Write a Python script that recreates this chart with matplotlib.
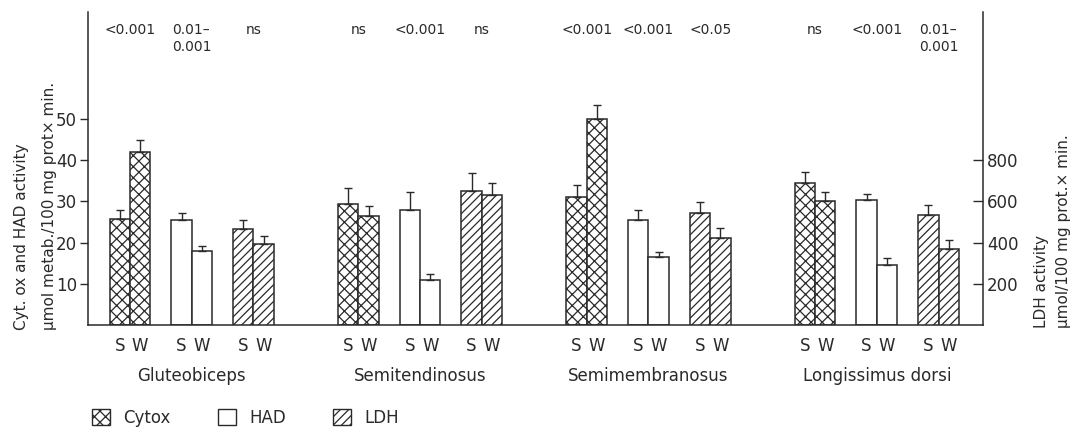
import numpy as np
import matplotlib
matplotlib.use("Agg")
import matplotlib.pyplot as plt
from matplotlib.patches import Patch
from matplotlib.transforms import blended_transform_factory

plt.rcParams['font.family'] = ['DejaVu Sans']
plt.rcParams['hatch.linewidth'] = 0.9
plt.rcParams['hatch.color'] = '#222222'
ink = '#2a2a2a'

# data
muscles = ["Gluteobiceps", "Semitendinosus", "Semimembranosus", "Longissimus dorsi"]
enzymes = ["Cytox", "HAD", "LDH"]
# Cytox and HAD on left scale, LDH on right scale; S and W per muscle
cytox_S = [25.8, 29.5, 31.2, 34.4]
cytox_W = [42.0, 26.4, 50.1, 30.0]
cytox_S_err = [2.2, 3.7, 2.7, 2.7]
cytox_W_err = [3.0, 2.6, 3.4, 2.4]
had_S = [25.6, 27.9, 25.4, 30.3]
had_W = [18.0, 10.9, 16.5, 14.5]
had_S_err = [1.7, 4.3, 2.6, 1.5]
had_W_err = [1.3, 1.4, 1.2, 1.7]
ldh_S = [464, 650, 542, 532]
ldh_W = [392, 630, 422, 368]
ldh_S_err = [48, 90, 54, 50]
ldh_W_err = [38, 58, 48, 44]
p_values = [["<0.001", "0.01\u2013\n0.001", "ns"],
            ["ns", "<0.001", "ns"],
            ["<0.001", "<0.001", "<0.05"],
            ["ns", "<0.001", "0.01\u2013\n0.001"]]

fig = plt.figure(figsize=(10.81, 4.37), dpi=100)
ax = fig.add_axes([0.0814, 0.2563, 0.8279, 0.7162])
ax2 = ax.twinx()
ax2.set_position(ax.get_position())

gap = 3.7
width = 0.33
centers = np.array([[m * gap + k for k in range(3)] for m in range(len(muscles))])

styles = {"Cytox": dict(facecolor='white', hatch='xxx'),
          "HAD": dict(facecolor='white', hatch=None),
          "LDH": dict(facecolor='white', hatch='////')}
ekw = dict(ecolor=ink, elinewidth=1.0, capsize=3, capthick=1.0)

series = [("Cytox", ax, cytox_S, cytox_W, cytox_S_err, cytox_W_err),
          ("HAD", ax, had_S, had_W, had_S_err, had_W_err),
          ("LDH", ax2, ldh_S, ldh_W, ldh_S_err, ldh_W_err)]
for k, (name, a, s, w, se, we) in enumerate(series):
    xs = centers[:, k]
    a.bar(xs - width / 2, s, width, yerr=[np.zeros(len(s)), se], edgecolor=ink,
          linewidth=1.1, error_kw=ekw, **styles[name])
    a.bar(xs + width / 2, w, width, yerr=[np.zeros(len(w)), we], edgecolor=ink,
          linewidth=1.1, error_kw=ekw, **styles[name])

ax.set_xlim(-0.68, 13.82)
ax.set_ylim(0, 76)
ax2.set_ylim(0, 76 * 20)

for a in (ax, ax2):
    a.spines['top'].set_visible(False)
    for sp in a.spines.values():
        sp.set_color(ink)
        sp.set_linewidth(1.1)
ax.spines['right'].set_visible(False)
ax2.spines['left'].set_visible(False)
ax2.spines['bottom'].set_visible(False)

ax.set_yticks([10, 20, 30, 40, 50])
ax.tick_params(axis='y', direction='out', length=6, width=1, color=ink,
               labelsize=12, labelcolor=ink, pad=2)
ax2.set_yticks([200, 400, 600, 800])
ax2.tick_params(axis='y', direction='in', length=7, width=1, color=ink,
                labelsize=12, labelcolor=ink, pad=3)

xt = np.concatenate([centers.ravel() - width / 2, centers.ravel() + width / 2])
ax.set_xticks(xt)
ax.set_xticklabels(["S"] * centers.size + ["W"] * centers.size)
ax.tick_params(axis='x', length=0, labelsize=12, labelcolor=ink, pad=9)

trans = blended_transform_factory(ax.transData, ax.transAxes)
for m, name in enumerate(muscles):
    ax.text(centers[m, 1], -0.163, name, transform=trans, ha='center',
            va='center', fontsize=12, color=ink)
    for k in range(3):
        ax.text(centers[m, k], 73.4, p_values[m][k], ha='center', va='top',
                fontsize=10, color=ink, linespacing=1.3, multialignment='left')

fig.text(0.0195, 0.245, "Cyt. ox and HAD activity", rotation=90, ha='center',
         va='bottom', fontsize=11, color=ink)
fig.text(0.0455, 0.245, "\u00b5mol metab./100 mg prot\u00d7 min.", rotation=90,
         ha='center', va='bottom', fontsize=11, color=ink)
fig.text(0.963, 0.249, "LDH activity", rotation=90, ha='center', va='bottom',
         fontsize=11, color=ink)
fig.text(0.9834, 0.249, "\u00b5mol/100 mg prot.\u00d7 min.", rotation=90,
         ha='center', va='bottom', fontsize=11, color=ink)

handles = [Patch(edgecolor=ink, linewidth=1.0, label=n, **styles[n]) for n in enzymes]
leg = fig.legend(handles=handles, loc='center left', ncol=3, frameon=False,
                 bbox_to_anchor=(0.085, 1 - 418 / 437), borderaxespad=0,
                 borderpad=0, handlelength=1.1, handleheight=1.1,
                 handletextpad=0.8, columnspacing=2.8, fontsize=12)
for t in leg.get_texts():
    t.set_color(ink)

fig.savefig("out.png", dpi=100, facecolor='white')
